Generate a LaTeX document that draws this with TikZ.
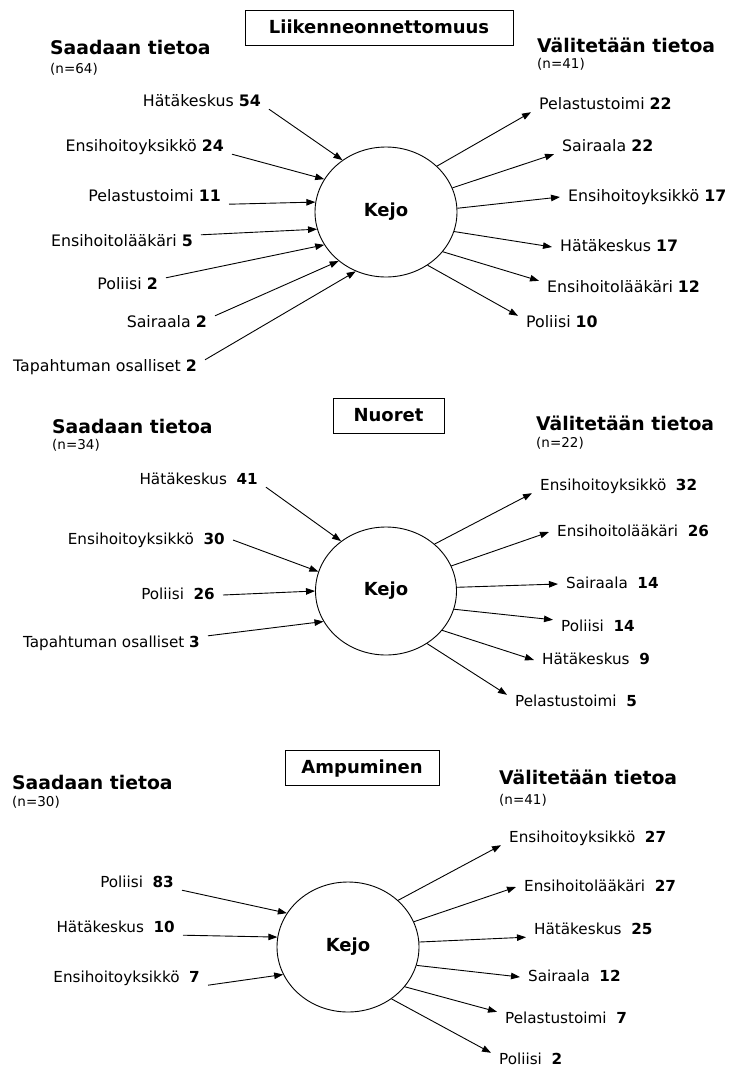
\documentclass[tikz,border=0pt]{standalone}
\usepackage{fontspec}
\setmainfont{DejaVu Sans}
\usetikzlibrary{arrows.meta,shapes.geometric}
\begin{document}
\begin{tikzpicture}[x=1pt,y=-1pt,
    vas/.style={anchor=east,inner xsep=8pt,inner ysep=0pt,text height=11pt,text depth=3pt,font=\fontsize{15.2}{18}\selectfont},
    oik/.style={vas,anchor=west},
    kejo/.style={ellipse,draw,line width=0.9pt,minimum width=142pt,minimum height=130pt,inner sep=0pt,font=\bfseries\fontsize{18}{20}\selectfont},
    otsikko/.style={draw,line width=1pt,inner sep=0pt,minimum height=35pt,text height=13pt,text depth=1pt,font=\bfseries\fontsize{18}{20}\selectfont},
    ryhma/.style={anchor=west,inner sep=0pt,font=\bfseries\fontsize{18.8}{22}\selectfont},
    nmaara/.style={anchor=west,inner sep=0pt,font=\fontsize{13.5}{16}\selectfont},
    nuoli/.style={-{Triangle[length=9pt,width=6.5pt]},line width=0.9pt}]
  \useasboundingbox (0,0) rectangle (732,1069);

  \begin{scope}[vas/.append style={font=\fontsize{15.8}{18}\selectfont}]
    \node[otsikko,minimum width=268pt] (tA) at (379,27.5) {Liikenneonnettomuus};
    \node[ryhma] (sA) at (50,47) {Saadaan tietoa};
    \node[nmaara] (nA) at (50,69) {(n=64)};
    \node[ryhma] (vA) at (537,45) {Välitetään tietoa};
    \node[nmaara] (mA) at (537,64) {(n=41)};
    \node[kejo] (kA) at (386,212) {Kejo};

    \node[vas] (lA1) at (269,102) {Hätäkeskus \textbf{54}};
    \node[vas] (lA2) at (232,147) {Ensihoitoyksikkö \textbf{24}};
    \node[vas] (lA3) at (229,197) {Pelastustoimi \textbf{11}};
    \node[vas] (lA4) at (201,242) {Ensihoitolääkäri \textbf{5}};
    \node[vas] (lA5) at (166,285) {Poliisi \textbf{2}};
    \node[vas] (lA6) at (215,323) {Sairaala \textbf{2}};
    \node[vas] (lA7) at (205,367) {Tapahtuman osalliset \textbf{2}};

    \node[oik] (rA1) at (531,105) {Pelastustoimi \textbf{22}};
    \node[oik] (rA2) at (554,147) {Sairaala \textbf{22}};
    \node[oik] (rA3) at (560,197) {Ensihoitoyksikkö \textbf{17}};
    \node[oik] (rA4) at (552,247) {Hätäkeskus \textbf{17}};
    \node[oik] (rA5) at (539,288) {Ensihoitolääkäri \textbf{12}};
    \node[oik] (rA6) at (518,323) {Poliisi \textbf{10}};

    \draw[nuoli] (lA1.south east) -- (kA.130);
    \draw[nuoli] (lA2.south east) -- (kA.152);
    \draw[nuoli] (lA3.south east) -- (kA.172);
    \draw[nuoli] (lA4.north east) -- (kA.194);
    \draw[nuoli] (lA5.north east) -- (kA.208);
    \draw[nuoli] (lA6.north east) -- (kA.226);
    \draw[nuoli] (lA7.north east) -- (kA.243);

    \draw[nuoli] (kA.42) -- (rA1.south west);
    \draw[nuoli] (kA.20) -- (rA2.south west);
    \draw[nuoli] (kA.3) -- (rA3.west);
    \draw[nuoli] (kA.-16) -- (rA4.west);
    \draw[nuoli] (kA.-35) -- (rA5.north west);
    \draw[nuoli] (kA.-52) -- (rA6.north west);
  \end{scope}

  \node[otsikko,minimum width=111pt] (tB) at (388.5,415.5) {Nuoret};
  \node[ryhma] (sB) at (52,426) {Saadaan tietoa};
  \node[nmaara] (nB) at (52,445) {(n=34)};
  \node[ryhma] (vB) at (536,423) {Välitetään tietoa};
  \node[nmaara] (mB) at (536,443) {(n=22)};
  \node[kejo,minimum width=141pt,minimum height=128pt] (kB) at (386,591) {Kejo};

  \node[vas] (lB1) at (266,480) {Hätäkeskus~~\textbf{41}};
  \node[vas] (lB2) at (233,540) {Ensihoitoyksikkö~~\textbf{30}};
  \node[vas] (lB3) at (223,595) {Poliisi~~\textbf{26}};
  \node[vas] (lB4) at (208,643) {Tapahtuman osalliset \textbf{3}};

  \node[oik] (rB1) at (532,486) {Ensihoitoyksikkö~~\textbf{32}};
  \node[oik] (rB2) at (549,532) {Ensihoitolääkäri~~\textbf{26}};
  \node[oik] (rB3) at (558,584) {Sairaala~~\textbf{14}};
  \node[oik] (rB4) at (553,627) {Poliisi~~\textbf{14}};
  \node[oik] (rB5) at (534,660) {Hätäkeskus~~\textbf{9}};
  \node[oik] (rB6) at (507,702) {Pelastustoimi~~\textbf{5}};

  \draw[nuoli] (lB1.south east) -- (kB.132);
  \draw[nuoli] (lB2.east) -- (kB.164);
  \draw[nuoli] (lB3.east) -- (kB.180);
  \draw[nuoli] (lB4.north east) -- (kB.206);

  \draw[nuoli] (kB.44) -- (rB1.south west);
  \draw[nuoli] (kB.21) -- (rB2.west);
  \draw[nuoli] (kB.3) -- (rB3.west);
  \draw[nuoli] (kB.-15) -- (rB4.north west);
  \draw[nuoli] (kB.-35) -- (rB5.west);
  \draw[nuoli] (kB.-52) -- (rB6.north west);

  \node[otsikko,minimum width=154pt] (tC) at (362,767.5) {Ampuminen};
  \node[ryhma] (sC) at (12,782) {Saadaan tietoa};
  \node[nmaara] (nC) at (12,802) {(n=30)};
  \node[ryhma] (vC) at (499,777) {Välitetään tietoa};
  \node[nmaara] (mC) at (499,800) {(n=41)};
  \node[kejo] (kC) at (348,947) {Kejo};

  \node[vas] (lC1) at (182,883) {Poliisi~~\textbf{83}};
  \node[vas] (lC2) at (183,928) {Hätäkeskus~~\textbf{10}};
  \node[vas] (lC3) at (208,978) {Ensihoitoyksikkö~~\textbf{7}};

  \node[oik] (rC1) at (501,838) {Ensihoitoyksikkö~~\textbf{27}};
  \node[oik] (rC2) at (516,887) {Ensihoitolääkäri~~\textbf{27}};
  \node[oik] (rC3) at (526,930) {Hätäkeskus~~\textbf{25}};
  \node[oik] (rC4) at (520,977) {Sairaala~~\textbf{12}};
  \node[oik] (rC5) at (497,1019) {Pelastustoimi~~\textbf{7}};
  \node[oik] (rC6) at (491,1060) {Poliisi~~\textbf{2}};

  \draw[nuoli] (lC1.south east) -- (kC.151);
  \draw[nuoli] (lC2.south east) -- (kC.172);
  \draw[nuoli] (lC3.south east) -- (kC.203);

  \draw[nuoli] (kC.43) -- (rC1.south west);
  \draw[nuoli] (kC.21) -- (rC2.west);
  \draw[nuoli] (kC.4) -- (rC3.south west);
  \draw[nuoli] (kC.-15) -- (rC4.west);
  \draw[nuoli] (kC.-35) -- (rC5.north west);
  \draw[nuoli] (kC.-50) -- (rC6.north west);
\end{tikzpicture}
\end{document}
